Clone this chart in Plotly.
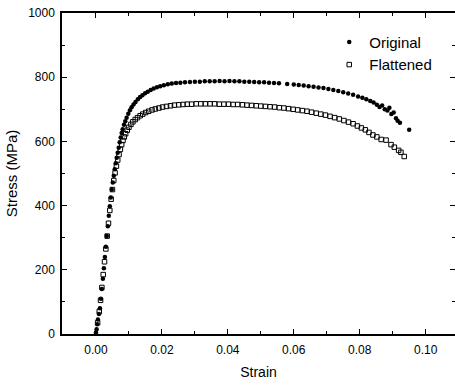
import plotly.graph_objects as go

# ---- data ----
orig_strain = [0.0000, 0.0002, 0.0004, 0.0006, 0.0009, 0.0012, 0.0015, 0.0018, 0.0021, 0.0024,
               0.0027, 0.0030, 0.0033, 0.0036, 0.0039, 0.0042, 0.0045, 0.0048, 0.0051, 0.0054,
               0.0057, 0.0060, 0.0063, 0.0066, 0.0069, 0.0072, 0.0075, 0.0078, 0.0081, 0.0085,
               0.0089, 0.0093, 0.0098, 0.0103, 0.0108, 0.0114, 0.0120, 0.0127, 0.0134, 0.0141,
               0.0149, 0.0157, 0.0166, 0.0175, 0.0185, 0.0195, 0.0206, 0.0218, 0.0230, 0.0243,
               0.0256, 0.0270, 0.0285, 0.0300, 0.0315, 0.0330, 0.0345, 0.0360, 0.0375, 0.0390,
               0.0405, 0.0420, 0.0435, 0.0450, 0.0465, 0.0480, 0.0495, 0.0510, 0.0525, 0.0540,
               0.0555, 0.0580, 0.0600, 0.0615, 0.0630, 0.0645, 0.0660, 0.0675, 0.0690, 0.0705,
               0.0720, 0.0735, 0.0750, 0.0765, 0.0780, 0.0795, 0.0808, 0.0820, 0.0832, 0.0842,
               0.0852, 0.0860, 0.0868, 0.0876, 0.0884, 0.0890, 0.0896, 0.0903, 0.0910, 0.0915,
               0.0922, 0.0950]
orig_stress = [5, 15, 30, 45, 62, 80, 110, 140, 172, 205,
               240, 272, 305, 336, 368, 398, 425, 450, 472, 493,
               513, 532, 549, 565, 580, 597, 612, 626, 638, 652,
               663, 674, 686, 697, 706, 715, 723, 731, 738, 744,
               750, 755, 760, 765, 769, 772, 775, 778, 780, 782,
               783, 784, 785, 786, 786, 787, 787, 787, 788, 787,
               788, 787, 787, 786, 786, 785, 784, 784, 783, 782,
               781, 779, 777, 776, 774, 772, 770, 768, 766, 763,
               760, 757, 753, 749, 745, 740, 736, 731, 726, 721,
               714, 707, 712, 700, 696, 705, 685, 690, 672, 664,
               658, 636]

flat_strain = [0.0005, 0.0010, 0.0014, 0.0018, 0.0022, 0.0026, 0.0030, 0.0034, 0.0038, 0.0042,
               0.0046, 0.0050, 0.0054, 0.0058, 0.0062, 0.0066, 0.0070, 0.0074, 0.0078, 0.0082,
               0.0086, 0.0090, 0.0095, 0.0100, 0.0106, 0.0112, 0.0119, 0.0126, 0.0134, 0.0142,
               0.0151, 0.0160, 0.0170, 0.0180, 0.0191, 0.0202, 0.0214, 0.0226, 0.0238, 0.0251,
               0.0264, 0.0277, 0.0290, 0.0304, 0.0318, 0.0332, 0.0346, 0.0360, 0.0374, 0.0388,
               0.0402, 0.0416, 0.0430, 0.0444, 0.0458, 0.0472, 0.0486, 0.0500, 0.0514, 0.0528,
               0.0542, 0.0556, 0.0570, 0.0584, 0.0598, 0.0612, 0.0626, 0.0640, 0.0654, 0.0668,
               0.0682, 0.0696, 0.0710, 0.0724, 0.0738, 0.0752, 0.0766, 0.0780, 0.0793, 0.0805,
               0.0817, 0.0828, 0.0840, 0.0852, 0.0865, 0.0880, 0.0895, 0.0905, 0.0918, 0.0925,
               0.0935]
flat_stress = [35, 70, 105, 145, 185, 225, 265, 305, 345, 385,
               420, 450, 478, 502, 523, 542, 559, 575, 590, 603,
               614, 624, 635, 644, 653, 661, 668, 674, 680, 685,
               690, 694, 698, 701, 704, 707, 709, 711, 713, 714,
               715, 716, 716, 717, 717, 717, 717, 717, 716, 716,
               716, 715, 715, 714, 713, 712, 711, 710, 709, 708,
               707, 705, 704, 702, 700, 698, 696, 694, 691, 688,
               685, 682, 678, 674, 670, 665, 660, 655, 648, 642,
               636, 628, 620, 614, 606, 604, 590, 582, 572, 566,
               553]

x_tick_step = 0.02
x_minor_step = 0.01
y_tick_step = 200
y_minor_step = 100

FONT = "Liberation Sans, Arial, sans-serif"

fig = go.Figure()
fig.add_trace(go.Scatter(
    x=orig_strain, y=orig_stress, mode="markers", name="Original",
    marker=dict(symbol="circle", size=4.5, color="black", line=dict(width=0)),
))
fig.add_trace(go.Scatter(
    x=flat_strain, y=flat_stress, mode="markers", name="Flattened",
    marker=dict(symbol="square-open", size=4.5, color="black", line=dict(width=1, color="black")),
))

fig.update_layout(
    width=455, height=387,
    margin=dict(l=62, r=0, t=13, b=53),
    paper_bgcolor="white", plot_bgcolor="white",
    showlegend=True,
    legend=dict(x=0.68, y=0.96, xanchor="left", yanchor="top",
                bgcolor="rgba(0,0,0,0)", borderwidth=0,
                font=dict(family=FONT, size=15, color="black"),
                tracegroupgap=0),
)

fig.update_xaxes(
    range=[-0.0103, 0.1089], tickmode="linear", tick0=0, dtick=x_tick_step, tickformat=".2f",
    showline=True, linecolor="black", linewidth=1.5, mirror="ticks",
    ticks="inside", ticklen=5, tickwidth=1.2, tickcolor="black",
    showgrid=False, zeroline=False, automargin=False, ticklabelstandoff=4,
    tickfont=dict(family=FONT, size=12, color="black"),
    minor=dict(tick0=0, dtick=x_minor_step, ticks="inside", ticklen=3, tickcolor="black", tickwidth=1, showgrid=False),
    title=dict(text="Strain", font=dict(family=FONT, size=14, color="black"), standoff=11),
)
fig.update_yaxes(
    range=[0, 1000], tickmode="linear", tick0=0, dtick=y_tick_step,
    showline=True, linecolor="black", linewidth=1.5, mirror="ticks",
    ticks="inside", ticklen=5, tickwidth=1.2, tickcolor="black",
    showgrid=False, zeroline=False, automargin=False, ticklabelstandoff=3,
    tickfont=dict(family=FONT, size=12, color="black"),
    minor=dict(tick0=0, dtick=y_minor_step, ticks="inside", ticklen=3, tickcolor="black", tickwidth=1, showgrid=False),
    title=dict(text="Stress (MPa)", font=dict(family=FONT, size=15, color="black"), standoff=7),
)

fig.write_html("out.html", config={"displayModeBar": False},
               post_script="document.body.style.margin='0';document.body.style.overflow='hidden';")
